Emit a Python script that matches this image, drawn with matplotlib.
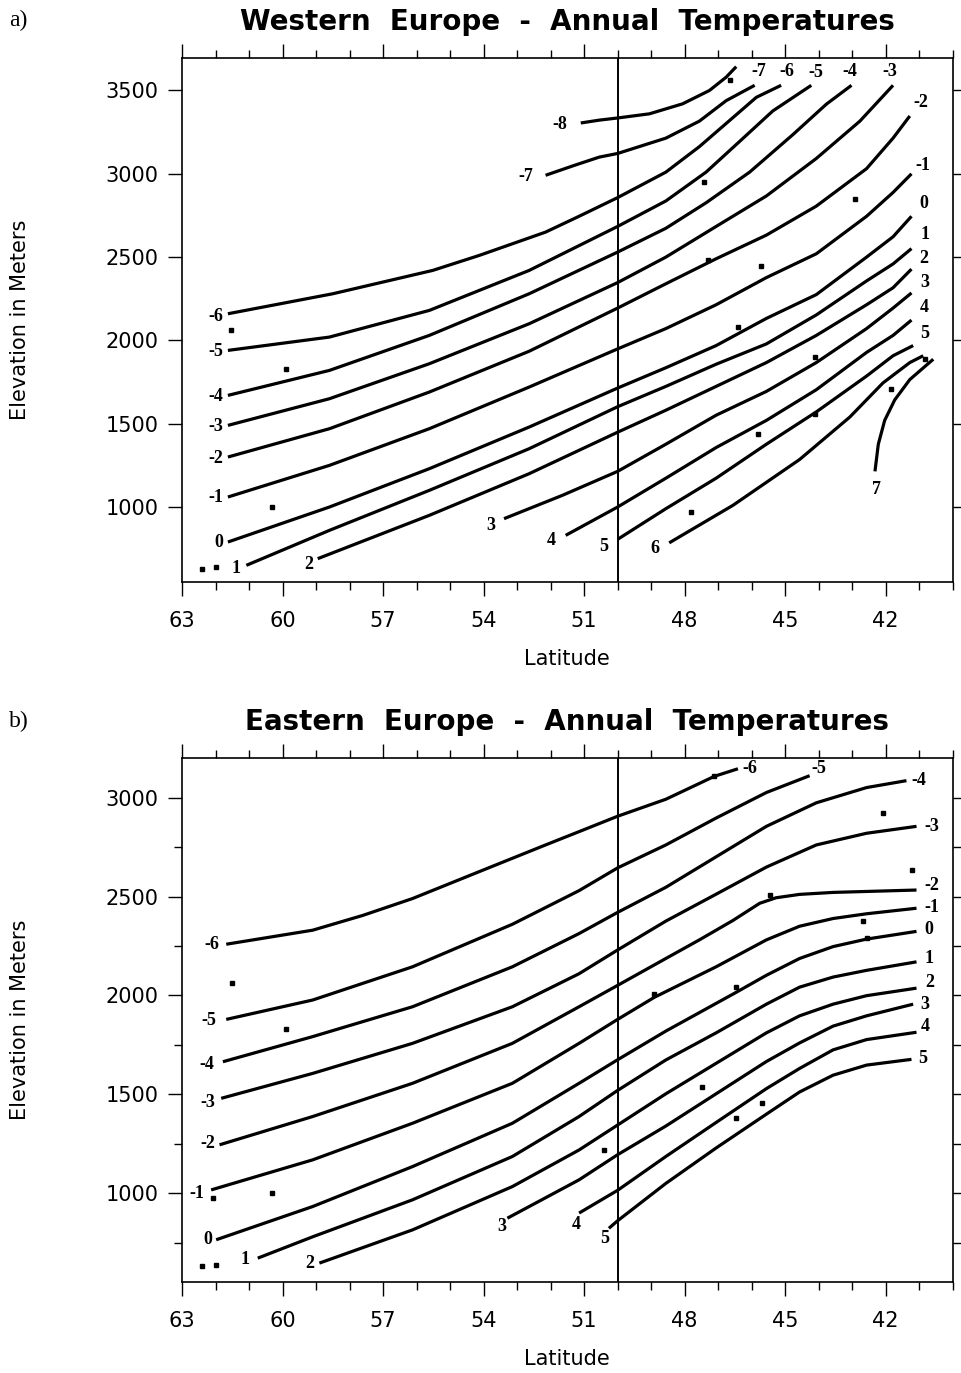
import matplotlib
matplotlib.use("Agg")
import matplotlib.pyplot as plt
from matplotlib.ticker import MultipleLocator

# ---- data (latitude in degrees, elevation in m) ----
west_levels = [-8, -7, -6, -5, -4, -3, -2, -1, 0, 1, 2, 3, 4, 5, 6, 7]
west_lat = [
    [51.10, 50.55, 50.00, 49.05, 48.06, 47.26, 46.76, 46.46],
    [52.15, 51.30, 50.55, 50.00, 48.56, 47.56, 46.76, 45.91],
    [61.63, 58.50, 55.52, 54.13, 52.15, 51.15, 50.00, 48.56, 47.56, 46.56, 45.86, 45.12],
    [61.63, 58.60, 55.62, 52.64, 50.00, 48.56, 47.36, 46.36, 45.37, 44.22],
    [61.63, 58.60, 55.62, 52.64, 50.00, 48.56, 47.36, 46.06, 44.77, 43.77, 43.02],
    [61.63, 58.60, 55.62, 52.64, 50.00, 48.56, 47.06, 45.56, 44.07, 42.77, 41.78],
    [61.63, 58.60, 55.62, 52.64, 50.00, 48.56, 47.06, 45.56, 44.07, 42.57, 41.78, 41.28],
    [61.63, 58.60, 55.62, 52.64, 50.00, 48.56, 47.06, 45.56, 44.07, 42.57, 41.78, 41.23],
    [61.63, 58.60, 55.62, 52.64, 50.00, 48.56, 47.06, 45.56, 44.07, 42.57, 41.78, 41.23],
    [61.08, 58.60, 55.62, 52.64, 50.00, 48.56, 47.06, 45.56, 44.07, 42.57, 41.78, 41.23],
    [58.95, 55.62, 52.64, 50.00, 48.56, 47.06, 45.56, 44.07, 42.57, 41.78, 41.23],
    [53.39, 51.65, 50.00, 48.56, 47.06, 45.56, 44.07, 42.57, 41.78, 41.23],
    [51.55, 50.00, 48.56, 47.06, 45.56, 44.07, 42.57, 41.78, 41.23],
    [50.00, 48.56, 47.06, 45.56, 44.07, 42.57, 41.78, 41.18],
    [48.46, 46.56, 44.57, 43.07, 42.08, 41.28, 40.88],
    [42.32, 42.22, 42.03, 41.73, 41.28, 40.58],
]
west_elev = [
    [3305, 3322, 3335, 3360, 3420, 3500, 3580, 3643],
    [2991, 3050, 3100, 3122, 3214, 3316, 3439, 3531],
    [2160, 2280, 2420, 2510, 2650, 2745, 2857, 3010, 3163, 3337, 3459, 3531],
    [1940, 2020, 2180, 2420, 2684, 2837, 3010, 3194, 3377, 3531],
    [1670, 1820, 2030, 2280, 2530, 2673, 2826, 3010, 3235, 3418, 3531],
    [1490, 1650, 1860, 2100, 2347, 2500, 2684, 2867, 3092, 3316, 3531],
    [1300, 1470, 1690, 1935, 2194, 2340, 2490, 2632, 2806, 3031, 3214, 3347],
    [1060, 1250, 1470, 1720, 1949, 2071, 2214, 2377, 2520, 2745, 2888, 3000],
    [790, 1000, 1230, 1480, 1714, 1836, 1969, 2132, 2275, 2500, 2622, 2745],
    [650, 860, 1100, 1350, 1602, 1724, 1857, 1979, 2153, 2357, 2459, 2551],
    [690, 950, 1200, 1449, 1581, 1724, 1867, 2030, 2214, 2316, 2428],
    [930, 1070, 1214, 1377, 1551, 1694, 1867, 2071, 2194, 2285],
    [830, 1000, 1173, 1357, 1520, 1704, 1928, 2030, 2122],
    [806, 990, 1173, 1377, 1571, 1786, 1908, 1969],
    [785, 1010, 1285, 1540, 1745, 1867, 1908],
    [1214, 1377, 1520, 1643, 1765, 1887],
]
west_pts_lat = [61.53, 59.91, 60.31, 62.39, 61.99, 46.66, 47.43, 47.31, 45.71,
                42.92, 46.41, 44.12, 45.81, 44.12, 41.83, 40.83, 47.81]
west_pts_elev = [2060, 1830, 1000, 630, 640, 3565, 2953, 2483, 2449,
                 2851, 2081, 1898, 1438, 1561, 1708, 1888, 969]

east_levels = [-6, -5, -4, -3, -2, -1, 0, 1, 2, 3, 4, 5]
east_lat = [
    [61.68, 59.10, 57.60, 56.12, 54.13, 52.15, 51.05, 50.00, 48.56, 47.11, 46.41],
    [61.68, 59.10, 56.12, 53.14, 51.15, 50.00, 48.56, 47.06, 45.56, 44.27],
    [61.78, 59.10, 56.12, 53.14, 51.15, 50.00, 48.56, 47.06, 45.56, 44.07, 42.57, 41.38],
    [61.83, 59.10, 56.12, 53.14, 51.15, 50.00, 48.56, 47.06, 45.56, 44.07, 42.57, 41.08],
    [61.88, 59.10, 56.12, 53.14, 51.15, 50.00, 48.56, 47.56, 46.56, 45.76, 45.27, 44.57,
     43.57, 41.08],
    [62.13, 59.10, 56.12, 53.14, 51.15, 50.00, 48.90, 47.06, 45.56, 44.57, 43.57, 42.57,
     41.08],
    [61.98, 59.10, 56.12, 53.14, 51.15, 50.00, 48.56, 46.46, 45.56, 44.57, 43.57, 42.57,
     41.08],
    [60.74, 59.10, 56.12, 53.14, 51.15, 50.00, 48.56, 47.06, 45.56, 44.57, 43.57, 42.57,
     41.08],
    [58.90, 56.12, 53.14, 51.15, 50.00, 48.56, 47.06, 45.56, 44.57, 43.57, 42.57, 41.08],
    [53.29, 51.15, 50.00, 48.56, 47.06, 45.56, 44.57, 43.57, 42.57, 41.18],
    [51.15, 50.00, 48.56, 47.06, 45.56, 44.57, 43.57, 42.57, 41.08],
    [50.26, 50.00, 48.56, 47.06, 45.56, 44.57, 43.57, 42.57, 41.23],
]
east_elev = [
    [2259, 2330, 2405, 2490, 2626, 2761, 2835, 2906, 2992, 3108, 3146],
    [1879, 1977, 2145, 2360, 2530, 2645, 2761, 2897, 3026, 3111],
    [1665, 1792, 1943, 2145, 2313, 2420, 2547, 2701, 2855, 2974, 3051, 3086],
    [1480, 1606, 1758, 1943, 2110, 2230, 2376, 2512, 2649, 2761, 2820, 2855],
    [1245, 1388, 1556, 1758, 1943, 2051, 2187, 2281, 2379, 2466, 2494, 2511,
     2521, 2533],
    [1017, 1169, 1354, 1556, 1758, 1879, 1991, 2145, 2281, 2350, 2389, 2413,
     2441],
    [765, 933, 1135, 1354, 1556, 1675, 1820, 2016, 2102, 2187, 2247, 2285,
     2324],
    [672, 780, 967, 1186, 1388, 1520, 1674, 1811, 1956, 2042, 2093, 2127,
     2170],
    [647, 815, 1034, 1219, 1345, 1503, 1657, 1811, 1897, 1956, 1999, 2037],
    [874, 1068, 1195, 1340, 1503, 1666, 1760, 1845, 1897, 1956],
    [900, 1015, 1186, 1358, 1529, 1631, 1725, 1777, 1814],
    [823, 861, 1050, 1229, 1400, 1512, 1597, 1648, 1677],
]
east_pts_lat = [61.50, 59.91, 60.31, 62.08, 62.39, 61.99, 50.41, 47.11, 42.07,
                41.21, 45.46, 42.67, 42.57, 48.90, 46.46, 47.48, 46.48, 45.68]
east_pts_elev = [2061, 1829, 1000, 975, 630, 639, 1219, 3108, 2923,
                 2632, 2507, 2376, 2290, 2008, 2042, 1537, 1383, 1455]

lat_ticks = [63, 60, 57, 54, 51, 48, 45, 42]
divide_lat = 50

# ---- label placement (offset points from the curve ends) ----
west_start = {-8: (-10, -1, 'right'), -7: (-9, -1, 'right'), -6: (-3, -2, 'right'),
              -5: (-3, -1, 'right'), -4: (-3, -1, 'right'), -3: (-3, -1, 'right'),
              -2: (-3, -1, 'right'), -1: (-3, 0, 'right'), 0: (-3, 0, 'right'),
              1: (-4, -2, 'right'), 2: (-3, -4, 'right'), 3: (-6, -5, 'right'),
              4: (-7, -4, 'right'), 5: (-7, -5, 'right'), 6: (-7, -4, 'right'),
              7: (1, -13, 'center')}
west_end = {-7: (3, 10, 'center'), -6: (4, 10, 'center'), -5: (3, 9.5, 'center'),
            -4: (-1, 10, 'center'), -3: (-2, 10, 'center'), -2: (8, 10, 'center'),
            -1: (8, 6, 'center'), 0: (9, 9, 'center'), 1: (9.5, 10, 'center'),
            2: (8.5, 7.5, 'center'), 3: (9.5, 7.5, 'center'), 4: (9.5, 9, 'center'),
            5: (8.5, 9, 'center')}
east_start = {-6: (-5, 0, 'right'), -5: (-7, -1, 'right'), -4: (-6, -2, 'right'),
              -3: (-4, -3, 'right'), -2: (-3, 1, 'right'), -1: (-5, -2.5, 'right'),
              0: (-2.5, 0, 'right'), 1: (-6, -1, 'right'), 2: (-3.5, 0, 'right'),
              3: (-1, -6, 'right'), 4: (1, -8, 'right'), 5: (0, -7.5, 'right')}
east_end = {-6: (3.5, 0.5, 'left'), -5: (1, 5, 'left'), -4: (3.5, 0, 'left'),
            -3: (6, 0, 'left'), -2: (6, 3, 'left'), -1: (6, 0.5, 'left'),
            0: (6, 1, 'left'), 1: (6, 2.4, 'left'), 2: (6, 4, 'left'),
            3: (5, 0, 'left'), 4: (3, 4, 'left'), 5: (5, 0.5, 'left')}

W, H = 962, 1373
fig = plt.figure(figsize=(W / 100, H / 100), dpi=100)

serif = ['Liberation Serif', 'DejaVu Serif']
sans = ['DejaVu Sans']


def put(ax, txt, x, y, spec):
    dx, dy, ha = spec
    ax.annotate(txt, (x, y), xytext=(dx, dy), textcoords='offset points',
                ha=ha, va='center', family=serif, fontweight='bold', fontsize=13)


def panel(rect, levels, lats, elevs, plat, pelev, starts, ends, ylim, yminor,
          title, tag, title_y, tag_y, xlab_y):
    ax = fig.add_axes(rect)
    for lev, xs, ys in zip(levels, lats, elevs):
        ax.plot(xs, ys, color='black', lw=2.3, solid_capstyle='butt',
                solid_joinstyle='round')
        if lev in starts:
            put(ax, str(lev), xs[0], ys[0], starts[lev])
        if lev in ends:
            put(ax, str(lev), xs[-1], ys[-1], ends[lev])
    ax.plot(plat, pelev, 's', color='black', ms=3.3, ls='none')
    ax.axvline(divide_lat, color='black', lw=1.4)

    ax.set_xlim(63, 40)
    ax.set_ylim(*ylim)
    ax.set_xticks(lat_ticks)
    ax.set_xticklabels([str(t) for t in lat_ticks])
    ax.xaxis.set_minor_locator(MultipleLocator(1))
    ax.yaxis.set_major_locator(MultipleLocator(500))
    if yminor:
        ax.yaxis.set_minor_locator(MultipleLocator(250))
    ax.tick_params(which='both', direction='out', top=True, right=True,
                   labeltop=False, labelright=False, width=1.0, colors='black')
    ax.tick_params(which='major', length=10)
    ax.tick_params(which='minor', length=5.5)
    ax.tick_params(axis='x', which='major', pad=11, labelsize=15)
    ax.tick_params(axis='y', which='major', pad=7, labelsize=15)
    for s in ax.spines.values():
        s.set_linewidth(1.2)
    for lbl in ax.get_xticklabels() + ax.get_yticklabels():
        lbl.set_family(sans)

    cx = rect[0] + rect[2] / 2
    fig.text(cx, title_y, title, ha='center', va='baseline', family=sans,
             fontweight='bold', fontsize=20)
    fig.text(9 / W, tag_y, tag, ha='left', va='baseline', family=serif, fontsize=17)
    fig.text(cx, xlab_y, 'Latitude', ha='center', va='baseline', family=sans, fontsize=15)
    fig.text(20 / W, rect[1] + rect[3] / 2, 'Elevation in Meters', rotation=90,
             ha='center', va='center', family=sans, fontsize=15)
    return ax


left = 182 / W
width = (952.7 - 182) / W
panel([left, 1 - 582 / H, width, (582 - 58) / H], west_levels, west_lat, west_elev,
      west_pts_lat, west_pts_elev, west_start, west_end, (550, 3695), False,
      'Western  Europe  -  Annual  Temperatures', 'a)',
      1 - 30 / H, 1 - 26 / H, 1 - 665 / H)
panel([left, 1 - 1281.7 / H, width, (1281.7 - 757.7) / H], east_levels, east_lat, east_elev,
      east_pts_lat, east_pts_elev, east_start, east_end, (553, 3202), True,
      'Eastern  Europe  -  Annual  Temperatures', 'b)',
      1 - 730 / H, 1 - 727 / H, 1 - 1365 / H)

fig.savefig('out.png', dpi=100)
